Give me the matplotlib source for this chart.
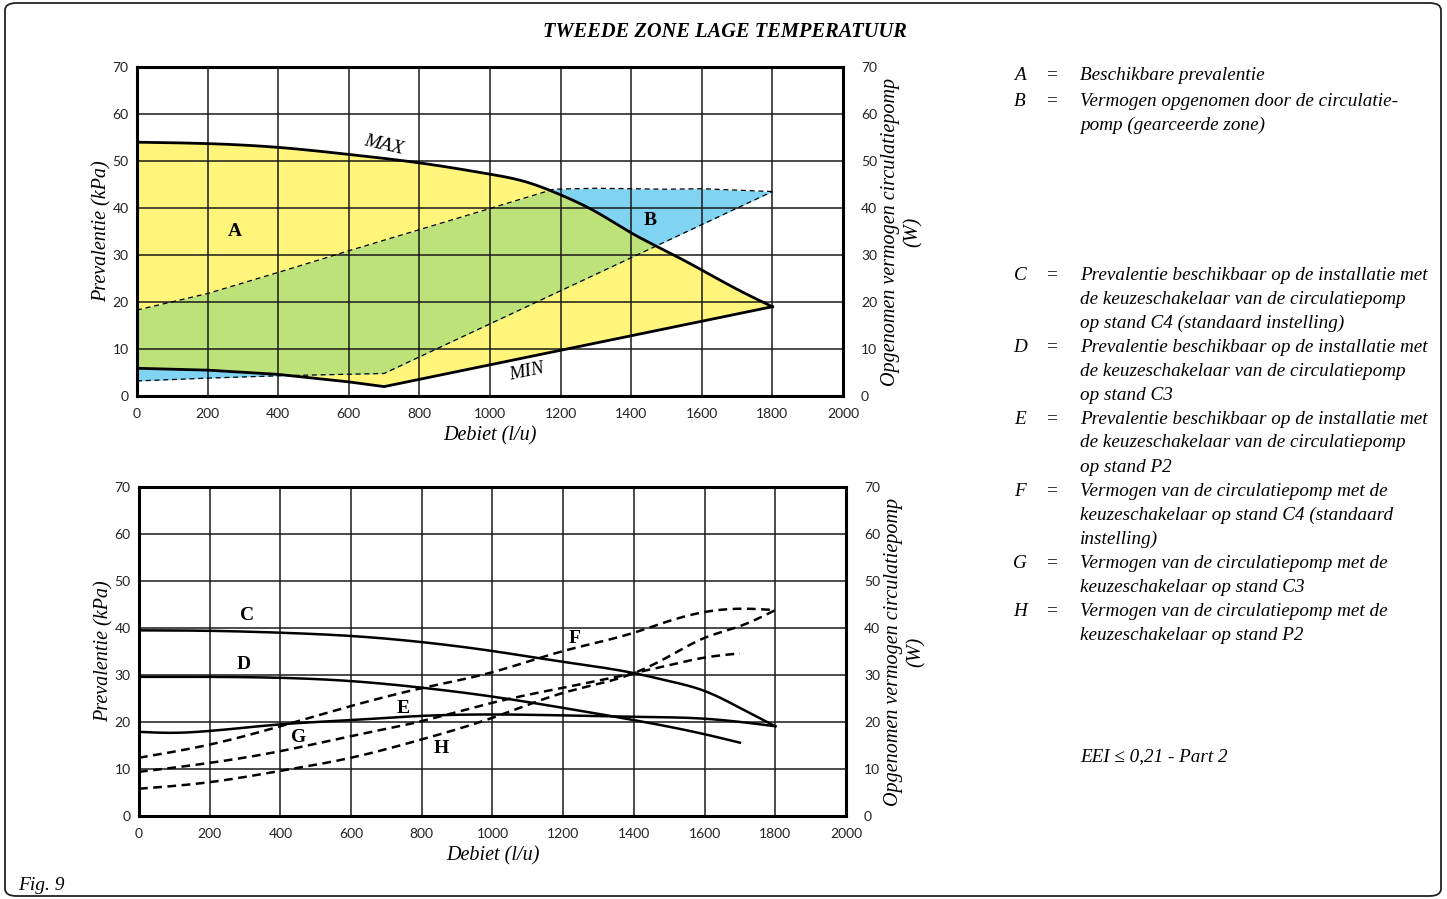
import numpy as np
import matplotlib
matplotlib.use("Agg")
import matplotlib.pyplot as plt
from matplotlib.patches import FancyBboxPatch

# ---- data ----
# top chart: available head MAX / MIN (kPa) and pump power band (W)
max_x = [0, 200, 400, 600, 800, 1000, 1100, 1200, 1300, 1400, 1500, 1600, 1700, 1800]
max_y = [54.0, 53.7, 52.9, 51.4, 49.6, 47.2, 45.6, 42.8, 39.2, 34.7, 30.8, 26.8, 22.7, 19.0]
min_x = [0, 200, 400, 600, 700, 1800]
min_y = [5.9, 5.5, 4.6, 3.0, 2.0, 19.0]
pw_hi_x = [0, 200, 400, 600, 800, 1000, 1180, 1300, 1500, 1600, 1800]
pw_hi_y = [18.3, 21.8, 26.3, 30.9, 35.4, 39.9, 44.0, 44.2, 44.0, 44.1, 43.5]
pw_lo_x = [0, 200, 400, 700, 1800]
pw_lo_y = [3.2, 3.8, 4.3, 4.8, 43.5]

# bottom chart: head curves C, D, E (kPa) and power curves F, G, H (W)
C_x = [0, 200, 400, 600, 800, 1000, 1200, 1400, 1500, 1600, 1700, 1800]
C_y = [39.5, 39.4, 39.0, 38.3, 37.0, 35.1, 32.8, 30.4, 28.7, 26.6, 23.0, 19.1]
D_x = [0, 200, 400, 600, 800, 1000, 1200, 1400, 1600, 1700]
D_y = [29.6, 29.6, 29.4, 28.7, 27.3, 25.4, 23.0, 20.4, 17.4, 15.6]
E_x = [0, 100, 200, 300, 400, 600, 800, 1000, 1200, 1400, 1600, 1800]
E_y = [17.9, 17.7, 18.1, 18.8, 19.5, 20.4, 21.3, 21.6, 21.4, 21.1, 20.7, 19.1]
F_x = [0, 200, 400, 600, 800, 1000, 1200, 1400, 1500, 1600, 1700, 1800]
F_y = [12.4, 15.2, 19.1, 23.4, 27.2, 30.6, 35.1, 39.0, 41.5, 43.4, 44.1, 43.8]
G_x = [0, 200, 400, 600, 800, 1000, 1200, 1400, 1500, 1600, 1700]
G_y = [9.4, 11.3, 13.8, 17.0, 20.2, 24.1, 27.3, 30.4, 32.1, 33.7, 34.6]
H_x = [0, 200, 400, 600, 800, 1000, 1200, 1400, 1500, 1600, 1700, 1800]
H_y = [5.8, 7.2, 9.6, 12.4, 16.3, 20.9, 26.2, 30.4, 34.0, 37.9, 40.4, 43.8]

x_ticks = [0, 200, 400, 600, 800, 1000, 1200, 1400, 1600, 1800, 2000]
y_ticks = [0, 10, 20, 30, 40, 50, 60, 70]

legend_keys = ["A", "B", "C", "D", "E", "F", "G", "H"]
legend_texts = [
    "Beschikbare prevalentie",
    "Vermogen opgenomen door de circulatie-\npomp (gearceerde zone)",
    "Prevalentie beschikbaar op de installatie met\nde keuzeschakelaar van de circulatiepomp\nop stand C4 (standaard instelling)",
    "Prevalentie beschikbaar op de installatie met\nde keuzeschakelaar van de circulatiepomp\nop stand C3",
    "Prevalentie beschikbaar op de installatie met\nde keuzeschakelaar van de circulatiepomp\nop stand P2",
    "Vermogen van de circulatiepomp met de\nkeuzeschakelaar op stand C4 (standaard\ninstelling)",
    "Vermogen van de circulatiepomp met de\nkeuzeschakelaar op stand C3",
    "Vermogen van de circulatiepomp met de\nkeuzeschakelaar op stand P2",
]

SERIF = ["Liberation Serif", "DejaVu Serif"]
SANS = ["Lato", "DejaVu Sans"]
W, H = 1447, 899


def smooth(x, y, n=300):
    # natural cubic spline through the read points
    x = np.asarray(x, float)
    y = np.asarray(y, float)
    m = len(x)
    h = np.diff(x)
    A = np.zeros((m, m))
    r = np.zeros(m)
    A[0, 0] = A[-1, -1] = 1
    for i in range(1, m - 1):
        A[i, i - 1] = h[i - 1]
        A[i, i] = 2 * (h[i - 1] + h[i])
        A[i, i + 1] = h[i]
        r[i] = 3 * ((y[i + 1] - y[i]) / h[i] - (y[i] - y[i - 1]) / h[i - 1])
    c = np.linalg.solve(A, r)
    b = (y[1:] - y[:-1]) / h - h * (2 * c[:-1] + c[1:]) / 3
    d = (c[1:] - c[:-1]) / (3 * h)
    xs = np.linspace(x[0], x[-1], n)
    idx = np.clip(np.searchsorted(x, xs) - 1, 0, m - 2)
    dx = xs - x[idx]
    ys = y[idx] + b[idx] * dx + c[idx] * dx ** 2 + d[idx] * dx ** 3
    return xs, ys


def setup(ax):
    ax.set_xlim(0, 2000)
    ax.set_ylim(0, 70)
    ax.set_xticks(x_ticks)
    ax.set_yticks(y_ticks)
    ax.grid(True, color="#1a1a1a", lw=1.1, zorder=2)
    ax.set_axisbelow(False)
    for s in ax.spines.values():
        s.set_linewidth(2.2)
        s.set_zorder(6)
    ax.tick_params(length=0, labelsize=10, colors="#222", pad=6)
    ax.tick_params(axis="x", pad=9)
    for lab in ax.get_xticklabels() + ax.get_yticklabels():
        lab.set_family(SANS)
    ax.set_xlabel("Debiet (l/u)", family=SERIF, style="italic", fontsize=14.5, labelpad=4)
    ax.set_ylabel("Prevalentie (kPa)", family=SERIF, style="italic", fontsize=14.5, labelpad=1)
    tw = ax.twinx()
    tw.set_ylim(0, 70)
    tw.set_yticks(y_ticks)
    tw.tick_params(length=0, labelsize=10, colors="#222", pad=13)
    for lab in tw.get_yticklabels():
        lab.set_family(SANS)
    for s in tw.spines.values():
        s.set_visible(False)
    tw.set_ylabel("Opgenomen vermogen circulatiepomp\n(W)", family=SERIF, style="italic",
                  fontsize=14.5, labelpad=3, linespacing=1.2)
    return tw


fig = plt.figure(figsize=(W / 100, H / 100), dpi=100)

# outer rounded frame
fig.patches.append(FancyBboxPatch((5 / W, 3 / H), 1436 / W, 893 / H,
                                  boxstyle="round,pad=0,rounding_size=0.008",
                                  transform=fig.transFigure, fc="none", ec="#222", lw=1.3))

fig.text(725 / W, 1 - 32 / H, "TWEEDE ZONE LAGE TEMPERATUUR", family=SERIF,
         style="italic", weight="bold", fontsize=14.7, ha="center", va="center")
fig.text(18 / W, 1 - 886 / H, "Fig. 9", family=SERIF, style="italic", fontsize=14,
         ha="left", va="center")

# ---- top chart ----
ax1 = fig.add_axes([137 / W, 1 - 396 / H, 706 / W, 329 / H])
setup(ax1)

xx = np.linspace(0, 1800, 900)
mx_s, my_s = smooth(max_x, max_y, 900)
mx = np.interp(xx, mx_s, my_s)
mn = np.interp(xx, min_x, min_y)
ph = np.interp(xx, pw_hi_x, pw_hi_y)
pl = np.interp(xx, pw_lo_x, pw_lo_y)
top = np.minimum(mx, ph)
bot = np.maximum(mn, pl)

ax1.fill_between(xx, mn, mx, color="#FFF57A", lw=0, zorder=1)
ax1.fill_between(xx, pl, ph, color="#80D4F2", lw=0, zorder=1)
ax1.fill_between(xx, bot, top, where=top > bot, color="#BEE27A", lw=0, zorder=1.5)

ax1.plot(mx_s, my_s, color="black", lw=2, zorder=4)
ax1.plot(min_x, min_y, color="black", lw=2, zorder=4)
ax1.plot(pw_hi_x, pw_hi_y, color="black", lw=0.9, ls=(0, (4, 3)), zorder=4)
ax1.plot(pw_lo_x, pw_lo_y, color="black", lw=0.9, ls=(0, (4, 3)), zorder=4)

ax1.text(700, 53.4, "MAX", family=SERIF, style="italic", fontsize=14, rotation=-13,
         ha="center", va="center", zorder=5)
ax1.text(1105, 5.2, "MIN", family=SERIF, style="italic", fontsize=14, rotation=12,
         ha="center", va="center", zorder=5)
ax1.text(278, 34.9, "A", family=SERIF, weight="bold", fontsize=14, ha="center", va="center", zorder=5)
ax1.text(1453, 37.3, "B", family=SERIF, weight="bold", fontsize=14, ha="center", va="center", zorder=5)

# ---- bottom chart ----
ax2 = fig.add_axes([139 / W, 1 - 816 / H, 707 / W, 329 / H])
setup(ax2)

for cx, cy in [(C_x, C_y), (D_x, D_y), (E_x, E_y)]:
    sx, sy = smooth(cx, cy)
    ax2.plot(sx, sy, color="black", lw=1.8, zorder=4)
for cx, cy in [(F_x, F_y), (G_x, G_y), (H_x, H_y)]:
    sx, sy = smooth(cx, cy)
    ax2.plot(sx, sy, color="black", lw=1.8, ls=(0, (3.5, 2.2)), zorder=4)

curve_labels = [("C", 305, 42.6), ("D", 297, 32.3), ("E", 747, 22.8),
                ("F", 1231, 37.7), ("G", 450, 16.8), ("H", 854, 14.3)]
for k, lx, ly in curve_labels:
    ax2.text(lx, ly, k, family=SERIF, weight="bold", fontsize=14, ha="center",
             va="center", zorder=5)

# ---- legend text ----
row_y = [75, 101, 275, 347, 419, 491, 563, 611]
for key, txt, y0 in zip(legend_keys, legend_texts, row_y):
    fig.text(1020 / W, 1 - y0 / H, key, family=SERIF, style="italic", fontsize=13.8,
             ha="center", va="center")
    fig.text(1051 / W, 1 - y0 / H, "=", family=SERIF, fontsize=13.8, ha="center", va="center")
    for k, line in enumerate(txt.split("\n")):
        fig.text(1080 / W, 1 - (y0 + 24 * k) / H, line, family=SERIF, style="italic",
                 fontsize=13.8, ha="left", va="center")

fig.text(1080 / W, 1 - 757 / H, "EEI \u2264 0,21 - Part 2", family=SERIF, style="italic",
         fontsize=13.8, ha="left", va="center")

fig.savefig("out.png", dpi=100)
